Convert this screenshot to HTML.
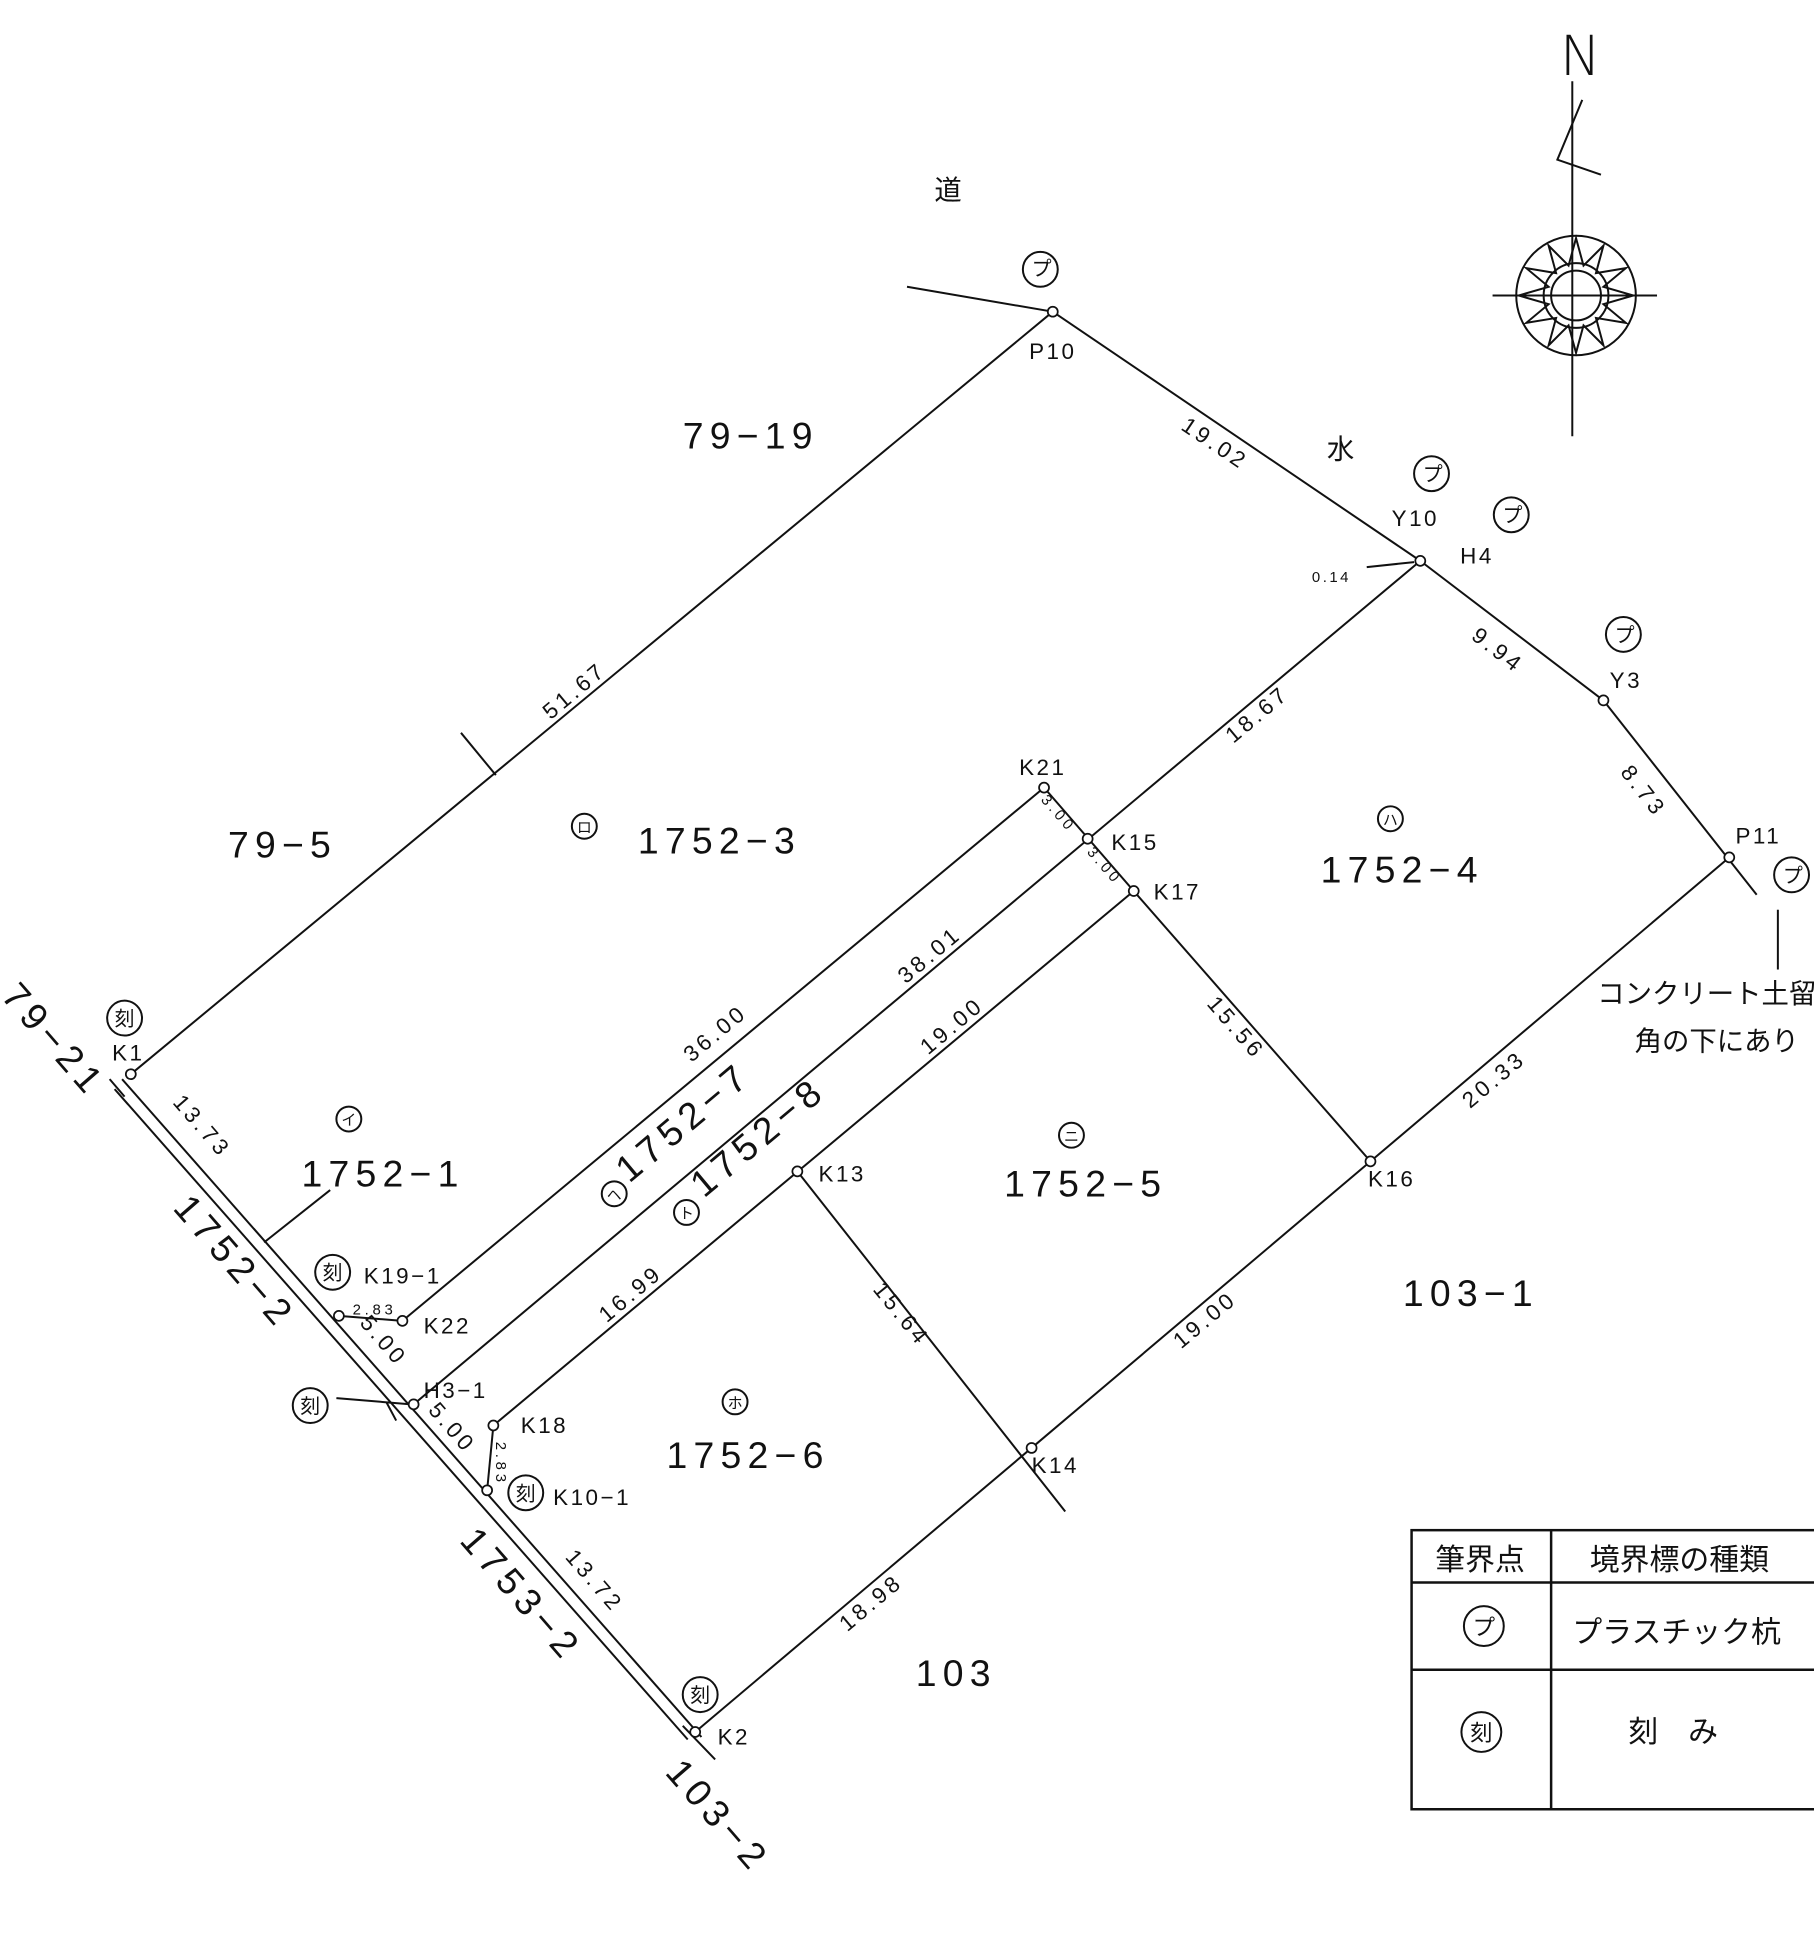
<!DOCTYPE html><html><head><meta charset="utf-8"><style>html,body{margin:0;padding:0;background:#fff}svg{display:block}text{font-family:"Liberation Sans","Noto Sans CJK JP",sans-serif;fill:#111}</style></head><body>
<svg width="1814" height="1954" viewBox="0 0 1456 1568" xmlns="http://www.w3.org/2000/svg">
<g stroke="#111" stroke-width="1.6" fill="none">
<line x1="728" y1="230" x2="845" y2="250"/>
<line x1="845" y1="250" x2="105" y2="862"/>
<line x1="845" y1="250" x2="1140" y2="450"/>
<line x1="1140" y1="450" x2="1287" y2="562"/>
<line x1="1287" y1="562" x2="1410" y2="718"/>
<line x1="370" y1="588" x2="398" y2="622"/>
<line x1="98" y1="866" x2="563" y2="1394"/>
<line x1="92" y1="874" x2="552" y2="1396"/>
<line x1="548" y1="1385" x2="574" y2="1412"/>
<line x1="88" y1="866" x2="100" y2="880"/>
<line x1="310" y1="1125" x2="318" y2="1140"/>
<line x1="323" y1="1060" x2="838" y2="632"/>
<line x1="838" y1="632" x2="910" y2="715"/>
<line x1="332" y1="1127" x2="1140" y2="450"/>
<line x1="396" y1="1144" x2="910" y2="715"/>
<line x1="910" y1="715" x2="1100" y2="932"/>
<line x1="1100" y1="932" x2="1388" y2="688"/>
<line x1="640" y1="940" x2="855" y2="1213"/>
<line x1="828" y1="1162" x2="1100" y2="932"/>
<line x1="828" y1="1162" x2="558" y2="1390"/>
<line x1="396" y1="1144" x2="391" y2="1196"/>
<line x1="272" y1="1056" x2="323" y2="1060"/>
<line x1="265" y1="955" x2="212" y2="997"/>
<line x1="270" y1="1122" x2="330" y2="1127"/>
<line x1="1097" y1="455" x2="1135" y2="451"/>
<line x1="1427" y1="730" x2="1427" y2="778"/>
<line x1="1262" y1="65" x2="1262" y2="350"/>
<polyline points="1270,80 1250,128 1285,140"/>
<line x1="1198" y1="237" x2="1330" y2="237"/>
<circle cx="1265" cy="237" r="48"/>
<circle cx="1265" cy="237" r="26"/>
<circle cx="1265" cy="237" r="20"/>
<polygon points="1265,191 1271,213 1287,197 1281,219 1305,215 1287,230 1311,237 1287,244 1305,259 1281,255 1287,277 1271,261 1265,283 1259,261 1243,277 1249,255 1225,259 1243,244 1219,237 1243,230 1225,215 1249,219 1243,197 1259,213"/>
<rect x="1133" y="1228" width="340" height="224" stroke-width="2"/>
<line x1="1245" y1="1228" x2="1245" y2="1452" stroke-width="2"/>
<line x1="1133" y1="1270" x2="1473" y2="1270" stroke-width="2"/>
<line x1="1133" y1="1340" x2="1473" y2="1340" stroke-width="2"/>
</g>
<g fill="#fff" stroke="#111" stroke-width="1.4">
<circle cx="845" cy="250" r="4"/><circle cx="1140" cy="450" r="4"/><circle cx="1287" cy="562" r="4"/><circle cx="1388" cy="688" r="4"/><circle cx="105" cy="862" r="4"/><circle cx="272" cy="1056" r="4"/><circle cx="323" cy="1060" r="4"/><circle cx="332" cy="1127" r="4"/><circle cx="396" cy="1144" r="4"/><circle cx="391" cy="1196" r="4"/><circle cx="558" cy="1390" r="4"/><circle cx="838" cy="632" r="4"/><circle cx="873" cy="673" r="4"/><circle cx="910" cy="715" r="4"/><circle cx="640" cy="940" r="4"/><circle cx="1100" cy="932" r="4"/><circle cx="828" cy="1162" r="4"/>
</g>
<g fill="none" stroke="#111" stroke-width="1.6">
<circle cx="835" cy="216" r="14"/><circle cx="1149" cy="380" r="14"/><circle cx="1213" cy="413" r="14"/><circle cx="1303" cy="509" r="14"/><circle cx="1438" cy="702" r="14"/><circle cx="100" cy="817" r="14"/><circle cx="267" cy="1021" r="14"/><circle cx="249" cy="1128" r="14"/><circle cx="422" cy="1198" r="14"/><circle cx="562" cy="1360" r="14"/><circle cx="1191" cy="1305" r="16"/><circle cx="1189" cy="1390" r="16"/>
<circle cx="469" cy="663" r="10"/><circle cx="1116" cy="657" r="10"/><circle cx="280" cy="898" r="10"/><circle cx="860" cy="911" r="10"/><circle cx="590" cy="1125" r="10"/><circle cx="493" cy="958" r="10"/><circle cx="551" cy="973" r="10"/>
</g>
<g font-size="16">
<text x="828" y="221">プ</text><text x="1142" y="386">プ</text><text x="1206" y="419">プ</text><text x="1296" y="515">プ</text><text x="1431" y="708">プ</text>
<text x="92" y="823">刻</text><text x="259" y="1027">刻</text><text x="241" y="1134">刻</text><text x="414" y="1204">刻</text><text x="554" y="1366">刻</text>
<text x="1182" y="1312" font-size="18">プ</text><text x="1180" y="1397" font-size="18">刻</text>
<text x="463" y="668" font-size="12">ロ</text><text x="1110" y="662" font-size="12">ハ</text><text x="274" y="903" font-size="12">イ</text><text x="854" y="916" font-size="12">ニ</text><text x="584" y="1130" font-size="12">ホ</text><text x="487" y="963" font-size="12">ヘ</text><text x="545" y="978" font-size="12">ト</text>
</g>
<g font-size="18" letter-spacing="2">
<text x="826" y="288">P10</text><text x="1117" y="422">Y10</text><text x="1172" y="452">H4</text><text x="1292" y="552">Y3</text><text x="1393" y="677">P11</text>
<text x="90" y="851">K1</text><text x="292" y="1030">K19−1</text><text x="340" y="1070">K22</text><text x="340" y="1122">H3−1</text><text x="418" y="1150">K18</text><text x="444" y="1208">K10−1</text><text x="576" y="1400">K2</text>
<text x="818" y="622">K21</text><text x="892" y="682">K15</text><text x="926" y="722">K17</text><text x="657" y="948">K13</text><text x="1098" y="952">K16</text><text x="828" y="1182">K14</text>
<text x="1053" y="467" font-size="12">0.14</text>
</g>
<g font-size="30" letter-spacing="5">
<text x="548" y="360">79−19</text><text x="183" y="688">79−5</text><text x="512" y="685">1752−3</text><text x="1060" y="708">1752−4</text>
<text x="242" y="952">1752−1</text><text x="806" y="960">1752−5</text><text x="535" y="1178">1752−6</text><text x="1126" y="1048">103−1</text><text x="735" y="1353">103</text>
<text transform="translate(505,950) rotate(-40)">1752−7</text>
<text transform="translate(565,962) rotate(-40)">1752−8</text>
<text transform="translate(0,800) rotate(49)">79−21</text>
<text transform="translate(138,970) rotate(49)">1752−2</text>
<text transform="translate(368,1237) rotate(49)">1753−2</text>
<text transform="translate(533,1423) rotate(49)">103−2</text>
</g>
<g font-size="18" letter-spacing="3">
<text transform="translate(442,578) rotate(-40)">51.67</text>
<text transform="translate(947,344) rotate(34)">19.02</text>
<text transform="translate(1180,512) rotate(38)">9.94</text>
<text transform="translate(1300,620) rotate(52)">8.73</text>
<text transform="translate(990,597) rotate(-40)">18.67</text>
<text transform="translate(555,853) rotate(-40)">36.00</text>
<text transform="translate(727,790) rotate(-40)">38.01</text>
<text transform="translate(745,847) rotate(-40)">19.00</text>
<text transform="translate(968,806) rotate(49)">15.56</text>
<text transform="translate(1180,890) rotate(-40)">20.33</text>
<text transform="translate(700,1035) rotate(51)">15.64</text>
<text transform="translate(948,1083) rotate(-40)">19.00</text>
<text transform="translate(487,1062) rotate(-40)">16.99</text>
<text transform="translate(680,1310) rotate(-40)">18.98</text>
<text transform="translate(138,885) rotate(49)">13.73</text>
<text transform="translate(453,1250) rotate(49)">13.72</text>
<text transform="translate(288,1062) rotate(49)">5.00</text>
<text transform="translate(343,1132) rotate(49)">5.00</text>
<text transform="translate(835,642) rotate(49)" font-size="12">3.00</text>
<text transform="translate(872,684) rotate(49)" font-size="12">3.00</text>
<text x="283" y="1055" font-size="12">2.83</text>
<text transform="translate(398,1157) rotate(90)" font-size="12">2.83</text>
</g>
<g font-size="22">
<text x="750" y="160">道</text><text x="1065" y="368">水</text>
<text x="1282" y="805">コンクリート土留</text><text x="1312" y="843">角の下にあり</text>
<text x="1152" y="1260" font-size="24">筆界点</text><text x="1276" y="1260" font-size="24">境界標の種類</text>
<text x="1262" y="1318" font-size="24">プラスチック杭</text><text x="1307" y="1398" font-size="24">刻　み</text>
</g>
<text x="1252" y="60" font-size="44" style="font-family:'DejaVu Sans',sans-serif;font-weight:200">N</text>
</svg>
</body></html>
